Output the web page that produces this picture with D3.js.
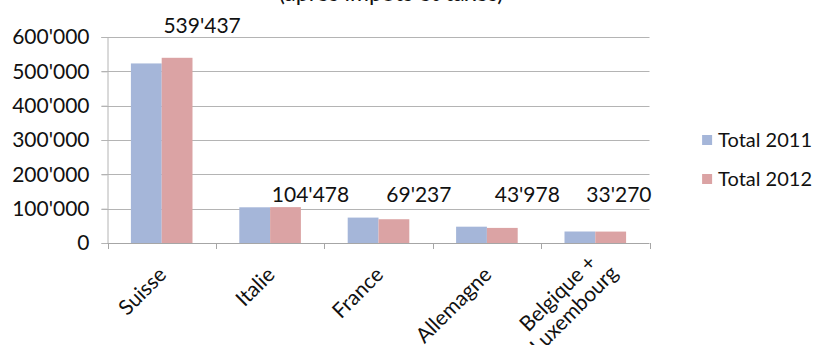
<!DOCTYPE html>
<html>
<head>
<meta charset="utf-8">
<script src="https://cdnjs.cloudflare.com/ajax/libs/d3/7.8.5/d3.min.js"></script>
<style>
  body { margin: 0; background: #fff; }
  text { font-family: Lato, "Open Sans", sans-serif; fill: #111; }
</style>
</head>
<body>
<div id="chart"></div>
<script>
var countries = ["Suisse", "Italie", "France", "Allemagne", "Belgique +\nLuxembourg"];
var series = ["Total 2011", "Total 2012"];
var total2011 = [523000, 104000, 74000, 47500, 33500];
var total2012 = [539437, 104478, 69237, 43978, 33270];
var yTicks = [0, 100000, 200000, 300000, 400000, 500000, 600000];
var colors = ["#a5b6d9", "#dba3a4"];

var width = 817, height = 345;
var plotLeft = 107.5, plotRight = 649.5, plotTop = 37, plotBottom = 243;

var svg = d3.select("#chart")
    .append("svg")
    .attr("width", width)
    .attr("height", height)

var x = d3.scaleBand().domain(countries).range([plotLeft, plotRight]).padding(0)
var inner = d3.scaleBand().domain(series).range([0, 61.6]).padding(0)
var y = d3.scaleLinear().domain([0, 600000]).range([plotBottom, plotTop])

var fmt = function(v) { return d3.format(",")(v).replace(/,/g, "'"); }

// title, cut off at the top of the picture
svg.append("text")
    .attr("x", 391).attr("y", 1)
    .attr("text-anchor", "middle")
    .style("font-size", "23px")
    .text("(après impôts et taxes)")

// gridlines
svg.append("g").selectAll("line")
    .data(yTicks.slice(1))
    .enter().append("line")
    .attr("x1", plotLeft - 6).attr("x2", plotRight)
    .attr("y1", d => Math.round(y(d)) + 0.5).attr("y2", d => Math.round(y(d)) + 0.5)
    .attr("stroke", "#b4b4b4")

var yAxis = svg.append("g")
    .attr("transform", "translate(" + plotLeft + ",0)")
    .call(d3.axisLeft(y).tickValues(yTicks).tickSize(6).tickPadding(12).tickFormat(fmt))
yAxis.select(".domain").attr("stroke", "#b4b4b4")
yAxis.selectAll(".tick line").attr("stroke", "#b4b4b4")
yAxis.selectAll("text").style("font-size", "21px").attr("fill", "#111")

// bars
var groups = svg.append("g").selectAll("g")
    .data(countries)
    .enter().append("g")
    .attr("transform", d => "translate(" + (x(d) + x.bandwidth() / 2 - 30.8) + ",0)")

groups.selectAll("rect")
    .data((d, i) => [total2011[i], total2012[i]])
    .enter().append("rect")
    .attr("x", (d, j) => inner(series[j]))
    .attr("width", inner.bandwidth())
    .attr("y", d => y(d))
    .attr("height", d => plotBottom - y(d))
    .attr("fill", (d, j) => colors[j])

// x axis
svg.append("line")
    .attr("x1", plotLeft).attr("x2", plotRight)
    .attr("y1", plotBottom + 0.5).attr("y2", plotBottom + 0.5)
    .attr("stroke", "#a6a6a6")
svg.append("g").selectAll("line")
    .data(d3.range(countries.length + 1))
    .enter().append("line")
    .attr("x1", i => Math.round(plotLeft + i * x.step()) + 0.5)
    .attr("x2", i => Math.round(plotLeft + i * x.step()) + 0.5)
    .attr("y1", plotBottom).attr("y2", plotBottom + 6)
    .attr("stroke", "#a6a6a6")

// category labels, rotated -45, lines centred on each other
var cat = svg.append("g").selectAll("g")
    .data(countries)
    .enter().append("g")
    .attr("transform", d => "translate(" + (x(d) + x.bandwidth() / 2 + 6) + "," + (plotBottom + 33) + ") rotate(-45)")
cat.each(function(d) {
  var lines = d.split("\n");
  var g = d3.select(this);
  var texts = lines.map(function(l, k) {
    return g.append("text")
      .attr("text-anchor", "end")
      .style("font-size", "21px")
      .attr("y", (k - (lines.length - 1) / 2) * 23)
      .text(l)
  })
  var widths = texts.map(t => t.node().getComputedTextLength());
  var wMax = d3.max(widths);
  texts.forEach(function(t, k) {
    t.attr("x", lines.length > 1 ? (widths[k] - wMax) / 2 + 14 : 0)
  })
})

// data labels for 2012
svg.append("g").selectAll("text")
    .data(total2012)
    .enter().append("text")
    .attr("text-anchor", "middle")
    .style("font-size", "21px")
    .attr("y", d => d > 200000 ? y(d) - 25 : y(100000) - 7)
    .text(d => fmt(d))
    .attr("x", function(d, i) {
      var cx = x(countries[i]) + x.bandwidth() / 2 + 15.4 + 25;
      var w = this.getComputedTextLength();
      return Math.min(cx, plotRight + 2 - w / 2);
    })

// legend, right-aligned to the picture edge
var legend = svg.append("g")
var items = legend.selectAll("g")
    .data(series)
    .enter().append("g")
    .attr("transform", (d, i) => "translate(0," + (147 + i * 39) + ")")
var ltext = items.append("text")
    .style("font-size", "20px")
    .text(d => d)
var lw = d3.max(ltext.nodes(), n => n.getComputedTextLength());
ltext.attr("x", 812 - lw)
items.append("rect")
    .attr("x", 812 - lw - 16).attr("y", -12).attr("width", 10).attr("height", 10)
    .attr("fill", (d, i) => colors[i])
</script>
</body>
</html>
